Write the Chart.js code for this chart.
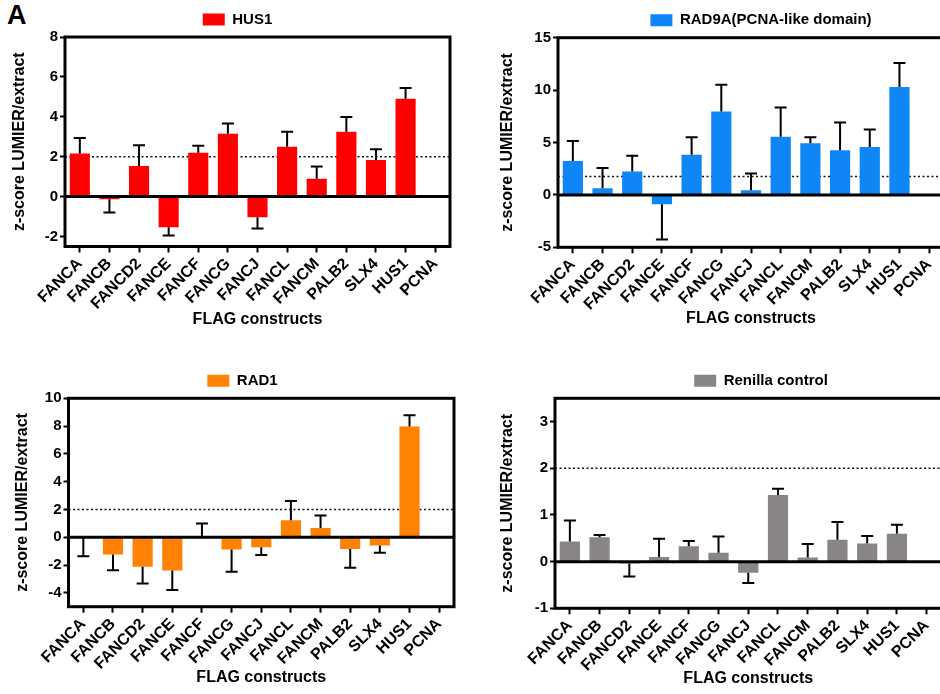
<!DOCTYPE html>
<html>
<head>
<meta charset="utf-8">
<script src="https://cdn.jsdelivr.net/npm/chart.js@4.4.1/dist/chart.umd.min.js"></script>
<style>
  html, body { margin: 0; padding: 0; background: #fff; width: 940px; height: 694px; overflow: hidden; position: relative; }
  canvas { position: absolute; }
  #panelLetter { position: absolute; left: 7px; top: 0px; font: bold 27px "Liberation Sans", Arial, sans-serif; color: #000; }
</style>
</head>
<body>
<div id="panelLetter">A</div>
<canvas id="hus1Chart" width="475" height="335" style="left:0px;top:0px"></canvas>
<canvas id="rad9aChart" width="542" height="335" style="left:490px;top:0px"></canvas>
<canvas id="rad1Chart" width="485" height="334" style="left:0px;top:360px"></canvas>
<canvas id="renillaChart" width="542" height="334" style="left:490px;top:360px"></canvas>
<script>
// Data
const constructs = ["FANCA", "FANCB", "FANCD2", "FANCE", "FANCF", "FANCG", "FANCJ", "FANCL", "FANCM", "PALB2", "SLX4", "HUS1", "PCNA"];

const hus1Values = [2.16, -0.13, 1.54, -1.53, 2.2, 3.15, -1.04, 2.5, 0.89, 3.25, 1.83, 4.9, null];
const hus1Errors = [0.78, 0.67, 1.04, 0.42, 0.35, 0.52, 0.56, 0.75, 0.62, 0.74, 0.54, 0.54, null];

const rad9aValues = [3.23, 0.64, 2.24, -0.89, 3.83, 7.96, 0.45, 5.56, 4.92, 4.25, 4.57, 10.29, null];
const rad9aErrors = [1.91, 1.92, 1.5, 3.36, 1.67, 2.54, 1.59, 2.78, 0.58, 2.65, 1.66, 2.3, null];

const rad1Values = [-0.03, -1.24, -2.13, -2.39, 0.03, -0.89, -0.72, 1.22, 0.67, -0.84, -0.6, 7.97, null];
const rad1Errors = [1.33, 1.13, 1.2, 1.41, 0.95, 1.6, 0.55, 1.39, 0.89, 1.36, 0.52, 0.81, null];

const renillaValues = [0.43, 0.52, -0.04, 0.1, 0.33, 0.19, -0.24, 1.43, 0.09, 0.47, 0.39, 0.6, null];
const renillaErrors = [0.45, 0.05, 0.28, 0.39, 0.11, 0.35, 0.22, 0.13, 0.29, 0.38, 0.16, 0.19, null];

const hus1Ticks = [-2, 0, 2, 4, 6, 8];
const rad9aTicks = [-5, 0, 5, 10, 15];
const rad1Ticks = [-4, -2, 0, 2, 4, 6, 8, 10];
const renillaTicks = [-1, 0, 1, 2, 3];

const FONT = '"Liberation Sans", Arial, Helvetica, sans-serif';

// threshold line, error bars, zero line and frame
const decorPlugin = {
  id: "decor",
  beforeDatasetsDraw(chart, args, opts) {
    const ctx = chart.ctx;
    const a = chart.chartArea;
    const y = chart.scales.y.getPixelForValue(opts.threshold);
    ctx.save();
    ctx.setLineDash([2, 2.5]);
    ctx.lineWidth = 1.5;
    ctx.strokeStyle = "#111";
    ctx.beginPath();
    ctx.moveTo(a.left, y);
    ctx.lineTo(a.right, y);
    ctx.stroke();
    ctx.restore();
  },
  afterDatasetsDraw(chart) {
    const ctx = chart.ctx;
    const a = chart.chartArea;
    const yScale = chart.scales.y;
    const ds = chart.data.datasets[0];
    const meta = chart.getDatasetMeta(0);
    ctx.save();
    ctx.strokeStyle = "#000";
    ctx.lineWidth = 2;
    meta.data.forEach((bar, i) => {
      const v = ds.data[i];
      const e = ds.errors[i];
      if (v === null || e === null) return;
      const end = v < 0 ? v - e : v + e;
      const y0 = yScale.getPixelForValue(v);
      const y1 = yScale.getPixelForValue(end);
      ctx.beginPath();
      ctx.moveTo(bar.x, y0);
      ctx.lineTo(bar.x, y1);
      ctx.moveTo(bar.x - 6, y1);
      ctx.lineTo(bar.x + 6, y1);
      ctx.stroke();
    });
    // zero line
    const z = yScale.getPixelForValue(0);
    ctx.lineWidth = 3;
    ctx.beginPath();
    ctx.moveTo(a.left, z);
    ctx.lineTo(a.right, z);
    ctx.stroke();
    // frame
    ctx.strokeRect(a.left, a.top, a.right - a.left, a.bottom - a.top);
    ctx.restore();
  },
};

function makePanel(id, label, color, values, errors, ticks, yMin, yMax, threshold, box) {
  const ctx = document.getElementById(id).getContext("2d");
  return new Chart(ctx, {
    type: "bar",
    data: {
      labels: constructs,
      datasets: [
        {
          label: label,
          data: values,
          errors: errors,
          backgroundColor: color,
          borderWidth: 0,
          barPercentage: 0.68,
          categoryPercentage: 1,
          yAxisID: "y",
        },
      ],
    },
    options: {
      responsive: false,
      animation: false,
      devicePixelRatio: 1,
      layout: { padding: { top: box.padTop, left: 0, right: 0, bottom: 0 } },
      plugins: {
        tooltip: { enabled: false },
        legend: {
          position: "top",
          labels: {
            boxWidth: 22,
            boxHeight: 12,
            padding: 10,
            color: "#000",
            font: { family: FONT, size: 15, weight: "bold" },
          },
        },
        decor: { threshold: threshold },
      },
      scales: {
        x: {
          offset: true,
          border: { display: false },
          grid: { display: true, drawOnChartArea: false, drawTicks: true, tickLength: 6, tickColor: "#000", tickWidth: 2, offset: false },
          ticks: {
            autoSkip: false,
            maxRotation: 45,
            minRotation: 45,
            padding: 2,
            color: "#000",
            font: { family: FONT, size: 16, weight: "bold" },
          },
          title: {
            display: true,
            text: "FLAG constructs",
            color: "#000",
            font: { family: FONT, size: 16, weight: "bold" },
            padding: { top: 0, bottom: box.xTitlePad },
          },
          afterFit: (s) => { s.height = box.xH; },
        },
        y: {
          min: yMin,
          max: yMax,
          border: { display: false },
          grid: { display: true, drawOnChartArea: false, drawTicks: true, tickLength: 5, tickColor: "#000", tickWidth: 2 },
          ticks: {
            padding: 2,
            color: "#000",
            font: { family: FONT, size: 15, weight: "bold" },
          },
          afterBuildTicks: (s) => { s.ticks = ticks.map((v) => ({ value: v })); },
          title: {
            display: true,
            text: "z-score LUMIER/extract",
            color: "#000",
            font: { family: FONT, size: 16, weight: "bold" },
            padding: { top: box.yTitlePad, bottom: 0 },
          },
          afterFit: (s) => { s.width = box.yW; },
        },
        spacer: {
          type: "linear",
          position: "right",
          display: true,
          border: { display: false },
          grid: { display: false },
          ticks: { display: false },
          afterFit: (s) => { s.width = box.rightW; },
        },
      },
    },
    plugins: [decorPlugin],
  });
}

makePanel("hus1Chart", "HUS1", "#FF0000", hus1Values, hus1Errors, hus1Ticks, -2.5, 8, 2,
  { padTop: 2, yW: 65, rightW: 25, xH: 88.5, yTitlePad: 10.4, xTitlePad: 5.4 });
makePanel("rad9aChart", "RAD9A(PCNA-like domain)", "#0F86F5", rad9aValues, rad9aErrors, rad9aTicks, -5, 15, 1.75,
  { padTop: 2.7, yW: 68, rightW: 88, xH: 87.7, yTitlePad: 8.4, xTitlePad: 7.1 });
makePanel("rad1Chart", "RAD1", "#FF8205", rad1Values, rad1Errors, rad1Ticks, -5, 10, 2,
  { padTop: 3.3, yW: 68.5, rightW: 31, xH: 87.3, yTitlePad: 13.4, xTitlePad: 7.1 });
makePanel("renillaChart", "Renilla control", "#898485", renillaValues, renillaErrors, renillaTicks, -1, 3.5, 2,
  { padTop: 3.3, yW: 65, rightW: 90.5, xH: 85.7, yTitlePad: 8.4, xTitlePad: 6.1 });
</script>
</body>
</html>
